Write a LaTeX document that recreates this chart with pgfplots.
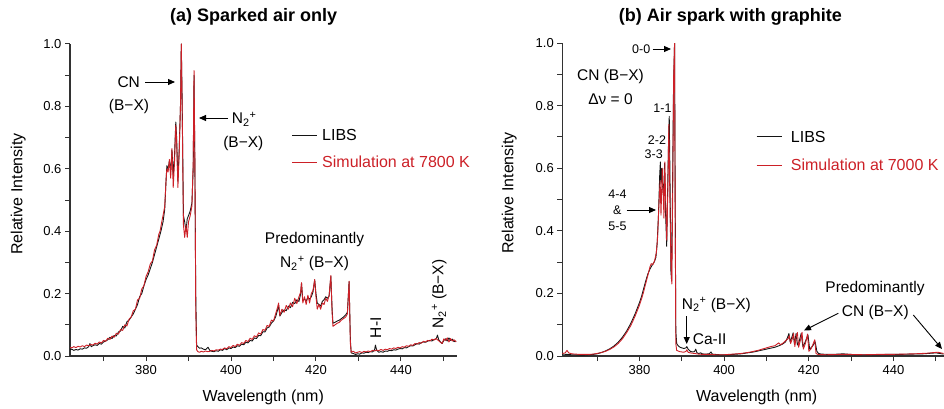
\documentclass[border=0pt]{standalone}
\usepackage{pgfplots}
\pgfplotsset{compat=1.18}
\usepackage{fontspec}
\setmainfont{Liberation Sans}
\usetikzlibrary{arrows.meta}
\definecolor{simred}{RGB}{204,32,39}
\definecolor{libs}{RGB}{20,20,20}
\definecolor{axgray}{RGB}{50,50,50}
\newcommand{\Ntwo}{N\textsubscript{2}\textsuperscript{+}}
\newcommand{\fs}[1]{\fontsize{#1}{#1}\selectfont}
\tikzset{
  libsline/.style={color=libs, line width=0.9pt, line join=round},
  simline/.style={color=simred, line width=0.9pt, line join=round},
  annarrow/.style={line width=0.9pt, -{Triangle[length=7pt,width=6pt]}},
}
\pgfplotsset{
  specax/.style={
    scale only axis, anchor=south west, ymin=0, ymax=1,
    axis lines*=left,
    axis line style={line width=1.1pt, color=axgray},
    xtick={380,400,420,440}, minor xtick={370,390,410,430,450},
    ytick={0,0.2,0.4,0.6,0.8,1}, minor ytick={0.1,0.3,0.5,0.7,0.9},
    tick align=outside, major tick length=5pt, minor tick length=5pt,
    every tick/.style={line width=1pt, color=axgray},
    yticklabel style={/pgf/number format/fixed, /pgf/number format/precision=1, /pgf/number format/fixed zerofill},
    /pgf/number format/assume math mode=true,
    tick label style={font=\fs{13}},
    xticklabel style={yshift=-1pt},
  },
}
\begin{document}
\begin{tikzpicture}[x=1pt,y=1pt]
\path[use as bounding box] (0,0) rectangle (944,408);
% ---------------- panel (a)
\begin{axis}[specax, at={(70pt,52pt)}, width=387pt, height=312pt, xmin=362.1, xmax=453.2]
\addplot[libsline] coordinates {
(362.1,0.020)(362.5,0.022)(363.0,0.018)(363.5,0.021)(364.0,0.019)(364.5,0.023)(365.0,0.022)(365.5,0.026)(366.0,0.025)(366.5,0.030)(366.8,0.040)(367.1,0.030)(367.5,0.033)(368.0,0.036)(368.5,0.034)(369.0,0.040)(369.5,0.038)(370.0,0.045)(370.5,0.048)(371.0,0.052)(371.5,0.060)(372.0,0.056)(372.5,0.066)(373.0,0.064)(373.5,0.077)(374.0,0.080)(374.5,0.095)(375.0,0.090)(375.5,0.110)(376.0,0.115)(376.5,0.125)(377.0,0.135)(377.5,0.150)(378.0,0.165)(378.5,0.190)(379.0,0.200)(379.5,0.225)(380.0,0.245)(380.5,0.260)(381.0,0.280)(381.5,0.300)(382.0,0.325)(382.5,0.350)(383.0,0.375)(383.5,0.400)(384.0,0.430)(384.4,0.470)(384.7,0.560)(384.9,0.610)(385.2,0.600)(385.5,0.625)(385.8,0.590)(386.1,0.660)(386.4,0.580)(386.7,0.640)(387.0,0.750)(387.2,0.700)(387.5,0.560)(387.8,0.660)(388.1,0.800)(388.3,1.000)(388.5,0.820)(388.8,0.450)(389.1,0.430)(389.4,0.400)(389.7,0.440)(390.0,0.450)(390.4,0.465)(390.8,0.490)(391.1,0.600)(391.3,0.900)(391.5,0.600)(391.7,0.200)(391.9,0.035)(392.2,0.030)(392.6,0.025)(393.0,0.026)(393.5,0.022)(394.0,0.020)(394.6,0.028)(395.0,0.018)(395.5,0.015)(396.0,0.014)(396.5,0.017)(397.0,0.015)(397.5,0.020)(398.0,0.018)(398.5,0.024)(399.0,0.020)(399.5,0.026)(400.0,0.024)(400.5,0.029)(401.0,0.027)(401.5,0.033)(402.0,0.031)(402.5,0.038)(403.0,0.036)(403.5,0.044)(404.0,0.042)(404.5,0.050)(405.0,0.048)(405.5,0.058)(406.0,0.056)(406.5,0.066)(407.0,0.065)(407.5,0.078)(408.0,0.077)(408.5,0.090)(409.0,0.093)(409.5,0.105)(410.0,0.112)(410.5,0.125)(411.0,0.150)(411.2,0.163)(411.5,0.128)(412.0,0.140)(412.5,0.148)(413.0,0.145)(413.5,0.160)(414.0,0.155)(414.5,0.172)(415.0,0.168)(415.5,0.180)(416.0,0.175)(416.4,0.200)(416.6,0.233)(416.9,0.178)(417.3,0.182)(417.7,0.176)(418.1,0.188)(418.5,0.182)(418.9,0.190)(419.3,0.205)(419.7,0.244)(420.0,0.200)(420.3,0.170)(420.7,0.165)(421.1,0.160)(421.5,0.175)(421.9,0.180)(422.3,0.190)(422.7,0.185)(423.1,0.192)(423.5,0.255)(423.8,0.150)(424.0,0.105)(424.5,0.108)(425.0,0.112)(425.5,0.115)(426.0,0.120)(426.5,0.125)(427.0,0.132)(427.4,0.140)(427.8,0.238)(428.1,0.050)(428.3,0.010)(428.8,0.008)(429.3,0.005)(429.8,0.007)(430.3,0.006)(430.8,0.010)(431.3,0.009)(431.8,0.012)(432.3,0.011)(432.8,0.014)(433.3,0.013)(433.8,0.020)(434.0,0.035)(434.3,0.018)(434.8,0.012)(435.3,0.014)(435.8,0.012)(436.3,0.016)(436.8,0.015)(437.3,0.018)(437.8,0.017)(438.3,0.020)(438.8,0.019)(439.3,0.022)(439.8,0.024)(440.3,0.023)(440.8,0.027)(441.3,0.026)(441.8,0.030)(442.3,0.033)(442.8,0.032)(443.3,0.036)(443.8,0.040)(444.3,0.038)(444.8,0.043)(445.3,0.045)(445.8,0.044)(446.3,0.048)(446.8,0.050)(447.3,0.048)(447.8,0.053)(448.3,0.055)(448.6,0.067)(448.9,0.052)(449.3,0.045)(449.7,0.040)(450.1,0.050)(450.5,0.055)(450.9,0.048)(451.3,0.058)(451.7,0.050)(452.1,0.054)(452.5,0.046)(453.0,0.048)
};
\addplot[simline] coordinates {
(362.1,0.028)(362.5,0.026)(363.0,0.030)(363.5,0.027)(364.0,0.031)(364.5,0.029)(365.0,0.033)(365.5,0.030)(366.0,0.035)(366.5,0.033)(367.0,0.037)(367.5,0.035)(368.0,0.041)(368.5,0.038)(369.0,0.045)(369.5,0.042)(370.0,0.050)(370.5,0.047)(371.0,0.057)(371.5,0.053)(372.0,0.064)(372.5,0.060)(373.0,0.073)(373.5,0.070)(374.0,0.085)(374.5,0.082)(375.0,0.100)(375.5,0.096)(376.0,0.118)(376.5,0.125)(377.0,0.145)(377.5,0.150)(378.0,0.180)(378.5,0.185)(379.0,0.215)(379.5,0.225)(380.0,0.255)(380.5,0.270)(381.0,0.295)(381.5,0.305)(382.0,0.340)(382.5,0.355)(383.0,0.390)(383.3,0.400)(383.7,0.430)(384.0,0.450)(384.4,0.480)(384.7,0.560)(384.9,0.600)(385.2,0.590)(385.5,0.630)(385.8,0.570)(386.1,0.665)(386.4,0.540)(386.7,0.620)(387.0,0.740)(387.2,0.690)(387.5,0.540)(387.8,0.650)(388.1,0.800)(388.3,1.000)(388.5,0.800)(388.8,0.420)(389.1,0.380)(389.4,0.420)(389.7,0.380)(390.0,0.430)(390.4,0.450)(390.8,0.480)(391.1,0.620)(391.3,0.915)(391.5,0.620)(391.7,0.150)(391.9,0.020)(392.2,0.014)(392.6,0.012)(393.0,0.015)(393.5,0.013)(394.0,0.016)(394.5,0.014)(395.0,0.015)(395.5,0.018)(396.0,0.016)(396.5,0.020)(397.0,0.019)(397.5,0.022)(398.0,0.021)(398.5,0.026)(399.0,0.023)(399.5,0.030)(400.0,0.027)(400.5,0.034)(401.0,0.030)(401.5,0.038)(402.0,0.034)(402.5,0.043)(403.0,0.040)(403.5,0.050)(404.0,0.046)(404.5,0.057)(405.0,0.053)(405.5,0.065)(406.0,0.061)(406.5,0.074)(407.0,0.070)(407.5,0.085)(408.0,0.082)(408.5,0.098)(409.0,0.095)(409.5,0.115)(410.0,0.112)(410.5,0.135)(411.0,0.158)(411.2,0.170)(411.5,0.130)(412.0,0.150)(412.5,0.140)(413.0,0.162)(413.5,0.150)(414.0,0.170)(414.5,0.158)(415.0,0.185)(415.5,0.168)(416.0,0.190)(416.4,0.205)(416.6,0.235)(416.9,0.170)(417.3,0.190)(417.7,0.165)(418.1,0.195)(418.5,0.170)(418.9,0.200)(419.3,0.210)(419.7,0.245)(420.0,0.190)(420.3,0.150)(420.7,0.165)(421.1,0.150)(421.5,0.170)(421.9,0.165)(422.3,0.185)(422.7,0.175)(423.1,0.195)(423.5,0.258)(423.8,0.140)(424.0,0.095)(424.5,0.100)(425.0,0.105)(425.5,0.108)(426.0,0.115)(426.5,0.120)(427.0,0.125)(427.4,0.135)(427.8,0.240)(428.1,0.040)(428.3,0.012)(428.8,0.015)(429.3,0.010)(429.8,0.012)(430.3,0.014)(430.8,0.011)(431.3,0.015)(431.8,0.013)(432.3,0.016)(432.8,0.014)(433.3,0.018)(433.8,0.016)(434.3,0.019)(434.8,0.017)(435.3,0.021)(435.8,0.018)(436.3,0.022)(436.8,0.020)(437.3,0.024)(437.8,0.022)(438.3,0.026)(438.8,0.024)(439.3,0.028)(439.8,0.026)(440.3,0.030)(440.8,0.028)(441.3,0.033)(441.8,0.031)(442.3,0.036)(442.8,0.034)(443.3,0.040)(443.8,0.038)(444.3,0.043)(444.8,0.041)(445.3,0.047)(445.8,0.045)(446.3,0.050)(446.8,0.048)(447.3,0.054)(447.8,0.051)(448.3,0.056)(448.8,0.050)(449.3,0.044)(449.7,0.040)(450.1,0.055)(450.5,0.050)(450.9,0.058)(451.3,0.045)(451.7,0.056)(452.1,0.048)(452.5,0.052)(453.0,0.045)
};
\end{axis}
% ---------------- panel (b)
\begin{axis}[specax, at={(562.3pt,52pt)}, width=381.2pt, height=313pt, xmin=361.8, xmax=451.8]
\addplot[libsline] coordinates {
(361.8,0.006)(363.0,0.005)(364.0,0.004)(365.0,0.004)(366.0,0.003)(367.0,0.003)(368.0,0.004)(369.0,0.005)(370.0,0.007)(371.0,0.011)(372.0,0.016)(373.0,0.023)(374.0,0.032)(375.0,0.044)(376.0,0.060)(377.0,0.080)(378.0,0.105)(379.0,0.135)(380.0,0.170)(380.5,0.190)(381.0,0.215)(381.5,0.240)(382.0,0.262)(382.5,0.278)(383.0,0.290)(383.5,0.300)(383.9,0.315)(384.2,0.360)(384.5,0.450)(384.8,0.580)(384.95,0.620)(385.1,0.550)(385.3,0.600)(385.5,0.540)(385.7,0.510)(385.95,0.615)(386.2,0.450)(386.45,0.350)(386.7,0.550)(386.9,0.700)(387.05,0.766)(387.2,0.600)(387.45,0.270)(387.6,0.240)(387.8,0.500)(388.05,0.850)(388.3,1.000)(388.45,0.500)(388.6,0.080)(388.8,0.040)(389.2,0.032)(389.6,0.028)(390.0,0.026)(390.5,0.024)(391.0,0.026)(391.2,0.030)(391.5,0.022)(392.0,0.015)(392.5,0.013)(393.0,0.014)(393.3,0.022)(393.6,0.010)(394.0,0.008)(394.5,0.010)(394.8,0.007)(395.5,0.006)(396.5,0.007)(396.9,0.013)(397.2,0.006)(398.0,0.005)(399.0,0.004)(400.0,0.004)(401.0,0.004)(402.0,0.005)(403.0,0.006)(404.0,0.007)(405.0,0.009)(406.0,0.011)(407.0,0.013)(408.0,0.016)(409.0,0.019)(410.0,0.022)(411.0,0.025)(412.0,0.028)(413.0,0.033)(413.8,0.038)(414.5,0.045)(415.0,0.060)(415.3,0.072)(415.6,0.045)(416.0,0.060)(416.3,0.074)(416.6,0.038)(417.0,0.072)(417.3,0.035)(417.7,0.045)(418.2,0.072)(418.6,0.030)(419.0,0.040)(419.8,0.067)(420.2,0.022)(420.8,0.030)(421.5,0.045)(421.9,0.015)(422.3,0.008)(423.0,0.006)(425.0,0.005)(427.0,0.006)(428.0,0.007)(430.0,0.005)(432.0,0.004)(435.0,0.004)(438.0,0.005)(441.0,0.005)(444.0,0.006)(447.0,0.007)(449.0,0.009)(450.0,0.010)(451.0,0.008)(451.8,0.006)
};
\addplot[simline] coordinates {
(361.8,0.008)(362.5,0.010)(362.9,0.018)(363.3,0.010)(364.0,0.007)(365.0,0.006)(366.0,0.005)(367.0,0.005)(368.0,0.005)(369.0,0.006)(370.0,0.008)(371.0,0.011)(372.0,0.015)(373.0,0.021)(374.0,0.029)(375.0,0.040)(376.0,0.055)(377.0,0.075)(378.0,0.098)(379.0,0.128)(380.0,0.162)(380.5,0.182)(381.0,0.205)(381.5,0.232)(382.0,0.258)(382.5,0.285)(382.8,0.295)(383.2,0.292)(383.6,0.305)(384.0,0.330)(384.3,0.380)(384.6,0.480)(384.9,0.560)(385.1,0.450)(385.4,0.600)(385.6,0.530)(385.8,0.440)(386.0,0.620)(386.2,0.500)(386.45,0.370)(386.7,0.520)(386.95,0.740)(387.2,0.500)(387.45,0.300)(387.65,0.230)(387.85,0.500)(388.1,0.900)(388.3,1.000)(388.45,0.450)(388.6,0.040)(388.8,0.018)(389.5,0.014)(390.5,0.012)(391.0,0.015)(391.2,0.020)(391.5,0.012)(392.0,0.010)(393.0,0.008)(394.0,0.006)(395.0,0.005)(396.0,0.005)(397.0,0.005)(398.0,0.004)(399.0,0.004)(400.0,0.004)(401.0,0.005)(402.0,0.006)(403.0,0.007)(404.0,0.008)(405.0,0.010)(406.0,0.012)(407.0,0.015)(408.0,0.018)(409.0,0.022)(410.0,0.026)(411.0,0.030)(412.0,0.033)(412.9,0.042)(413.3,0.036)(414.0,0.042)(414.6,0.050)(415.1,0.055)(415.4,0.065)(415.7,0.040)(416.1,0.055)(416.4,0.072)(416.7,0.030)(417.0,0.060)(417.3,0.075)(417.6,0.028)(418.0,0.050)(418.4,0.076)(418.7,0.022)(419.2,0.040)(419.7,0.070)(420.0,0.015)(420.5,0.022)(421.0,0.038)(421.4,0.052)(421.7,0.008)(422.2,0.005)(424.0,0.004)(427.0,0.005)(430.0,0.005)(433.0,0.004)(436.0,0.005)(439.0,0.005)(442.0,0.006)(445.0,0.007)(448.0,0.009)(449.5,0.011)(450.5,0.012)(451.5,0.009)(451.8,0.008)
};
\end{axis}
% ---------------- titles and axis labels
\node[font=\fs{18}\bfseries] at (253.7,391) {(a) Sparked air only};
\node[font=\fs{18}\bfseries] at (730.3,391) {(b) Air spark with graphite};
\node[font=\fs{16}] at (263.3,11) {Wavelength (nm)};
\node[font=\fs{16}] at (756.7,11) {Wavelength (nm)};
\node[font=\fs{16},rotate=90] at (18.3,214) {Relative Intensity};
\node[font=\fs{16},rotate=90] at (509.3,215) {Relative Intensity};
% ---------------- legends
\draw[libsline] (292,273) -- (317,273);
\node[font=\fs{16},anchor=west,inner sep=0pt] at (322,273) {LIBS};
\draw[simline] (292,246) -- (317,246);
\node[font=\fs{16},anchor=west,inner sep=0pt,text=simred] at (322,246) {Simulation at 7800 K};
\draw[libsline] (756.7,271.3) -- (781.7,271.3);
\node[font=\fs{16},anchor=west,inner sep=0pt] at (790.7,271.3) {LIBS};
\draw[simline] (756.7,243) -- (781.7,243);
\node[font=\fs{16},anchor=west,inner sep=0pt,text=simred] at (790.7,243) {Simulation at 7000 K};
% ---------------- annotations (a)
\node[font=\fs{15.5}] at (128.7,326) {CN};
\node[font=\fs{15.5}] at (129,301.3) {(B−X)};
\draw[annarrow] (145,326) -- (175,326);
\draw[annarrow] (228,290) -- (199,290);
\node[font=\fs{15.5},anchor=west,inner sep=0pt] at (231.7,289) {\Ntwo};
\node[font=\fs{15.5}] at (243.3,264.7) {(B−X)};
\node[font=\fs{15.5}] at (314.5,169) {Predominantly};
\node[font=\fs{15.5}] at (314.5,144.7) {\Ntwo\ (B−X)};
\node[font=\fs{15.5},rotate=90] at (375.7,80.3) {H-I};
\node[font=\fs{15.5},rotate=90] at (439.3,114) {\Ntwo\ (B−X)};
% ---------------- annotations (b)
\node[font=\fs{12.5}] at (641.2,359) {0-0};
\draw[annarrow] (652.7,359) -- (671,359);
\node[font=\fs{15.5}] at (610.5,332) {CN (B−X)};
\node[font=\fs{15.5}] at (610.5,309) {Δν = 0};
\node[font=\fs{12.5}] at (662.5,300.3) {1-1};
\node[font=\fs{12.5}] at (657,268) {2-2};
\node[font=\fs{12.5}] at (653.7,253.7) {3-3};
\node[font=\fs{12.5}] at (617.5,213.7) {4-4};
\node[font=\fs{12.5}] at (617.3,198) {\&};
\node[font=\fs{12.5}] at (617.5,182) {5-5};
\draw[annarrow] (626.7,198) -- (656,198);
\node[font=\fs{15.5},anchor=west,inner sep=0pt] at (681.7,103) {\Ntwo\ (B−X)};
\draw[annarrow] (686.7,92) -- (686.7,64);
\node[font=\fs{15.5},anchor=west,inner sep=0pt] at (692.7,69) {Ca-II};
\node[font=\fs{15.5}] at (875,119.7) {Predominantly};
\node[font=\fs{15.5}] at (875.3,95.3) {CN (B−X)};
\draw[annarrow] (838.3,94.7) -- (804,77.5);
\draw[annarrow] (913.3,93) -- (942,59);
\end{tikzpicture}
\end{document}
